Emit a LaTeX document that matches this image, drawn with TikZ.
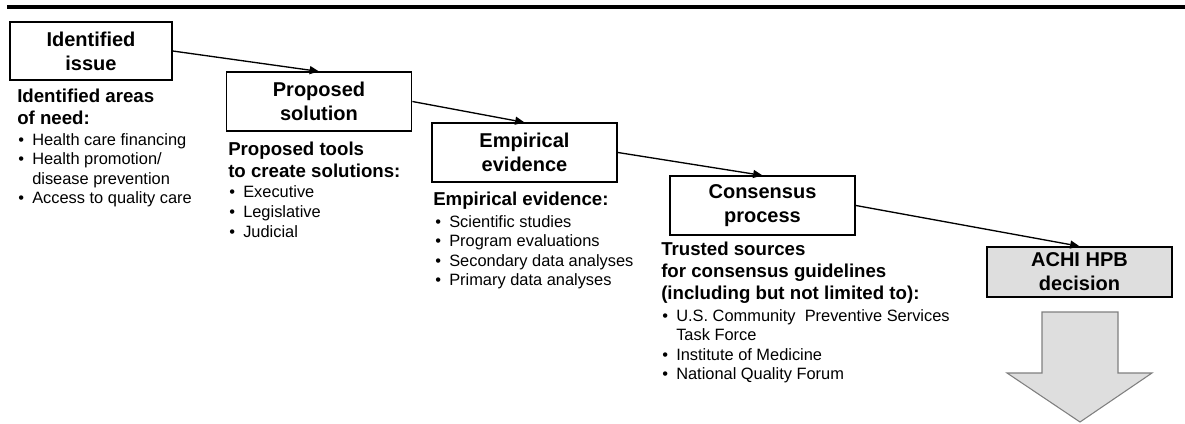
\documentclass[tikz,border=0pt]{standalone}
\usepackage{fontspec}
\setmainfont{Liberation Sans}
\usetikzlibrary{arrows.meta}

\definecolor{boxgray}{HTML}{DEDEDE}
\definecolor{edgegray}{HTML}{7F7F7F}

\newcommand{\bitem}{\makebox[10.5pt][l]{•}}
\newcommand{\bcont}{\hspace*{10.5pt}}

\tikzset{
    heading/.style={font=\fontsize{14}{16.5}\selectfont\bfseries},
    itemlist/.style={font=\fontsize{12.3}{14.7}\selectfont}
}

\begin{document}
\begin{tikzpicture}[x=0.75pt,y=-0.75pt]
\useasboundingbox (0,0) rectangle (1185,424);
\draw[line width=3.2pt] (7,7) -- (1185,7);

\begin{scope}[every node/.style={rectangle,draw,line width=1.1pt,align=center,inner sep=0pt,
              font=\fontsize{15}{18}\selectfont\bfseries,
              minimum width=139pt,minimum height=44pt}]
    \node[minimum width=121.5pt,minimum height=43.5pt] (issue) at (91,51) {Identified\\issue};
    \node (solution) at (319,101.5) {Proposed\\solution};
    \node (evidence) at (524.5,152.5) {Empirical\\evidence};
    \node (consensus) at (762.5,205.5) {Consensus\\process};
    \node[fill=boxgray,minimum height=37.5pt] (decision) at (1079.5,272) {ACHI HPB\\decision};
\end{scope}

\begin{scope}[every node/.style={anchor=north west,inner sep=0pt,align=left}]
    \node[heading] (needhead) at (17,88.4) {Identified areas\\of need:};
    \node[itemlist] (needlist) at (18,133) {\bitem Health care financing\\
        \bitem Health promotion/\\ \bcont disease prevention\\
        \bitem Access to quality care};

    \node[heading] (toolhead) at (228,141.4) {Proposed tools\\to create solutions:};
    \node[itemlist] (toollist) at (229,185.7) {\bitem Executive\\
        \bitem Legislative\\ \bitem Judicial};

    \node[heading] (evidhead) at (433,191.4) {Empirical evidence:};
    \node[itemlist] (evidlist) at (435,215) {\bitem Scientific studies\\
        \bitem Program evaluations\\ \bitem Secondary data analyses\\
        \bitem Primary data analyses};

    \node[heading] (srchead) at (661,241.4) {Trusted sources\\for consensus guidelines\\(including but not limited to):};
    \node[itemlist] (srclist) at (662,309) {\bitem U.S. Community~ Preventive Services\\
        \bcont Task Force\\ \bitem Institute of Medicine\\
        \bitem National Quality Forum};
\end{scope}

\begin{scope}[every edge/.style={draw=black,line width=1pt}]
    \path [-{Triangle[length=7pt,width=6pt]}] (issue.east) edge (solution.north);
    \path [-{Triangle[length=7pt,width=6pt]}] (solution.east) edge (evidence.north);
    \path [-{Triangle[length=7pt,width=6pt]}] (evidence.east) edge (consensus.north);
    \path [-{Triangle[length=7pt,width=6pt]}] (consensus.east) edge (decision.north);
\end{scope}

% outcome arrow below the decision box
\draw[draw=edgegray,fill=boxgray,line width=0.8pt]
    (1042,312) -- (1118,312) -- (1118,373) -- (1152,373) -- (1080,422)
    -- (1007,373) -- (1042,373) -- cycle;
\end{tikzpicture}
\end{document}
